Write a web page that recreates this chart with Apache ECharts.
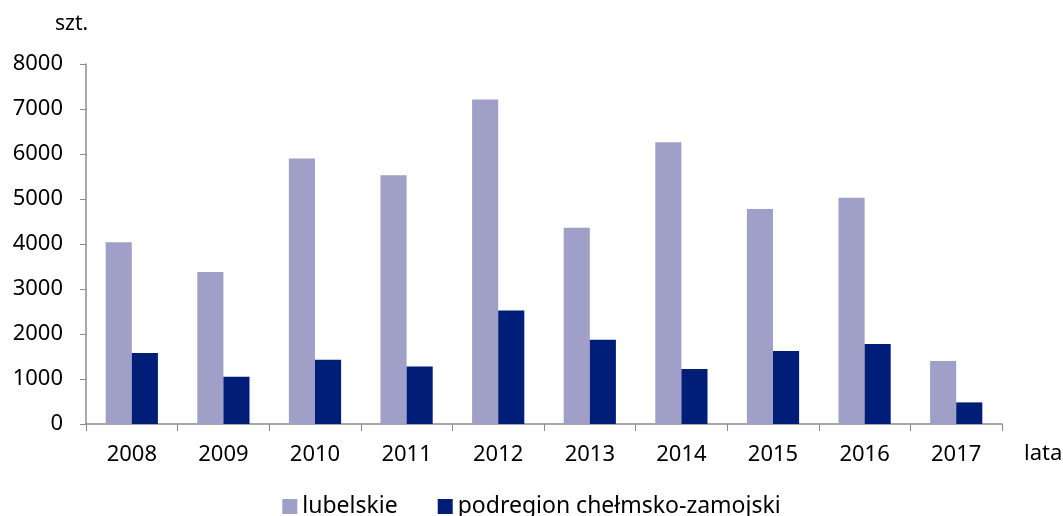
<!DOCTYPE html>
<html>
<head>
<meta charset="utf-8">
<script src="https://cdn.jsdelivr.net/npm/echarts@6/dist/echarts.min.js"></script>
<style>
    html, body { margin: 0; padding: 0; background: #fff; }
    #chart { width: 1063px; height: 516px; }
</style>
</head>
<body>
<div id="chart"></div>
<script>
// dane
const years = ['2008', '2009', '2010', '2011', '2012', '2013', '2014', '2015', '2016', '2017'];
const lubelskie = [4040, 3380, 5900, 5530, 7210, 4360, 6260, 4780, 5030, 1400];
const podregion = [1580, 1050, 1430, 1280, 2520, 1870, 1220, 1625, 1780, 480];
const seriesNames = ['lubelskie', 'podregion chełmsko-zamojski'];

const font = 'Noto Sans';

const chart = echarts.init(document.getElementById('chart'));
const option = {
    animation: false,
    textStyle: { fontFamily: font },
    grid: {
        left: 86,
        right: 61,
        top: 64,
        bottom: 92,
        containLabel: false
    },
    legend: {
        data: seriesNames,
        top: 490,
        left: 'center',
        itemWidth: 15,
        itemHeight: 15,
        itemGap: 40,
        icon: 'rect',
        textStyle: { fontFamily: font, fontSize: 23, color: '#000' }
    },
    graphic: [
        {
            type: 'text',
            left: 55,
            top: 14,
            style: { text: 'szt.', fontFamily: font, fontSize: 21, fill: '#000' }
        },
        {
            type: 'text',
            left: 1024,
            top: 443,
            style: { text: 'lata', fontFamily: font, fontSize: 22, fill: '#000' }
        }
    ],
    xAxis: {
        type: 'category',
        data: years,
        axisLine: { lineStyle: { color: '#8c8c8c', width: 1.5 } },
        axisTick: { show: true, length: 7, lineStyle: { color: '#8c8c8c' } },
        axisLabel: { color: '#000', fontSize: 22, margin: 20, fontFamily: font }
    },
    yAxis: {
        type: 'value',
        min: 0,
        max: 8000,
        interval: 1000,
        axisLine: { show: true, lineStyle: { color: '#8c8c8c', width: 1.5 } },
        axisTick: { show: true, length: 6, lineStyle: { color: '#8c8c8c' } },
        splitLine: { show: false },
        axisLabel: {
            color: '#000',
            fontSize: 22,
            margin: 23,
            fontFamily: font,
            formatter: function (v) { return String(v); }
        }
    },
    series: [
        {
            name: seriesNames[0],
            type: 'bar',
            data: lubelskie,
            barGap: '0%',
            barCategoryGap: '43%',
            itemStyle: { color: '#9f9fc8' }
        },
        {
            name: seriesNames[1],
            type: 'bar',
            data: podregion,
            itemStyle: { color: '#001d78' }
        }
    ]
};
chart.setOption(option);
</script>
</body>
</html>
